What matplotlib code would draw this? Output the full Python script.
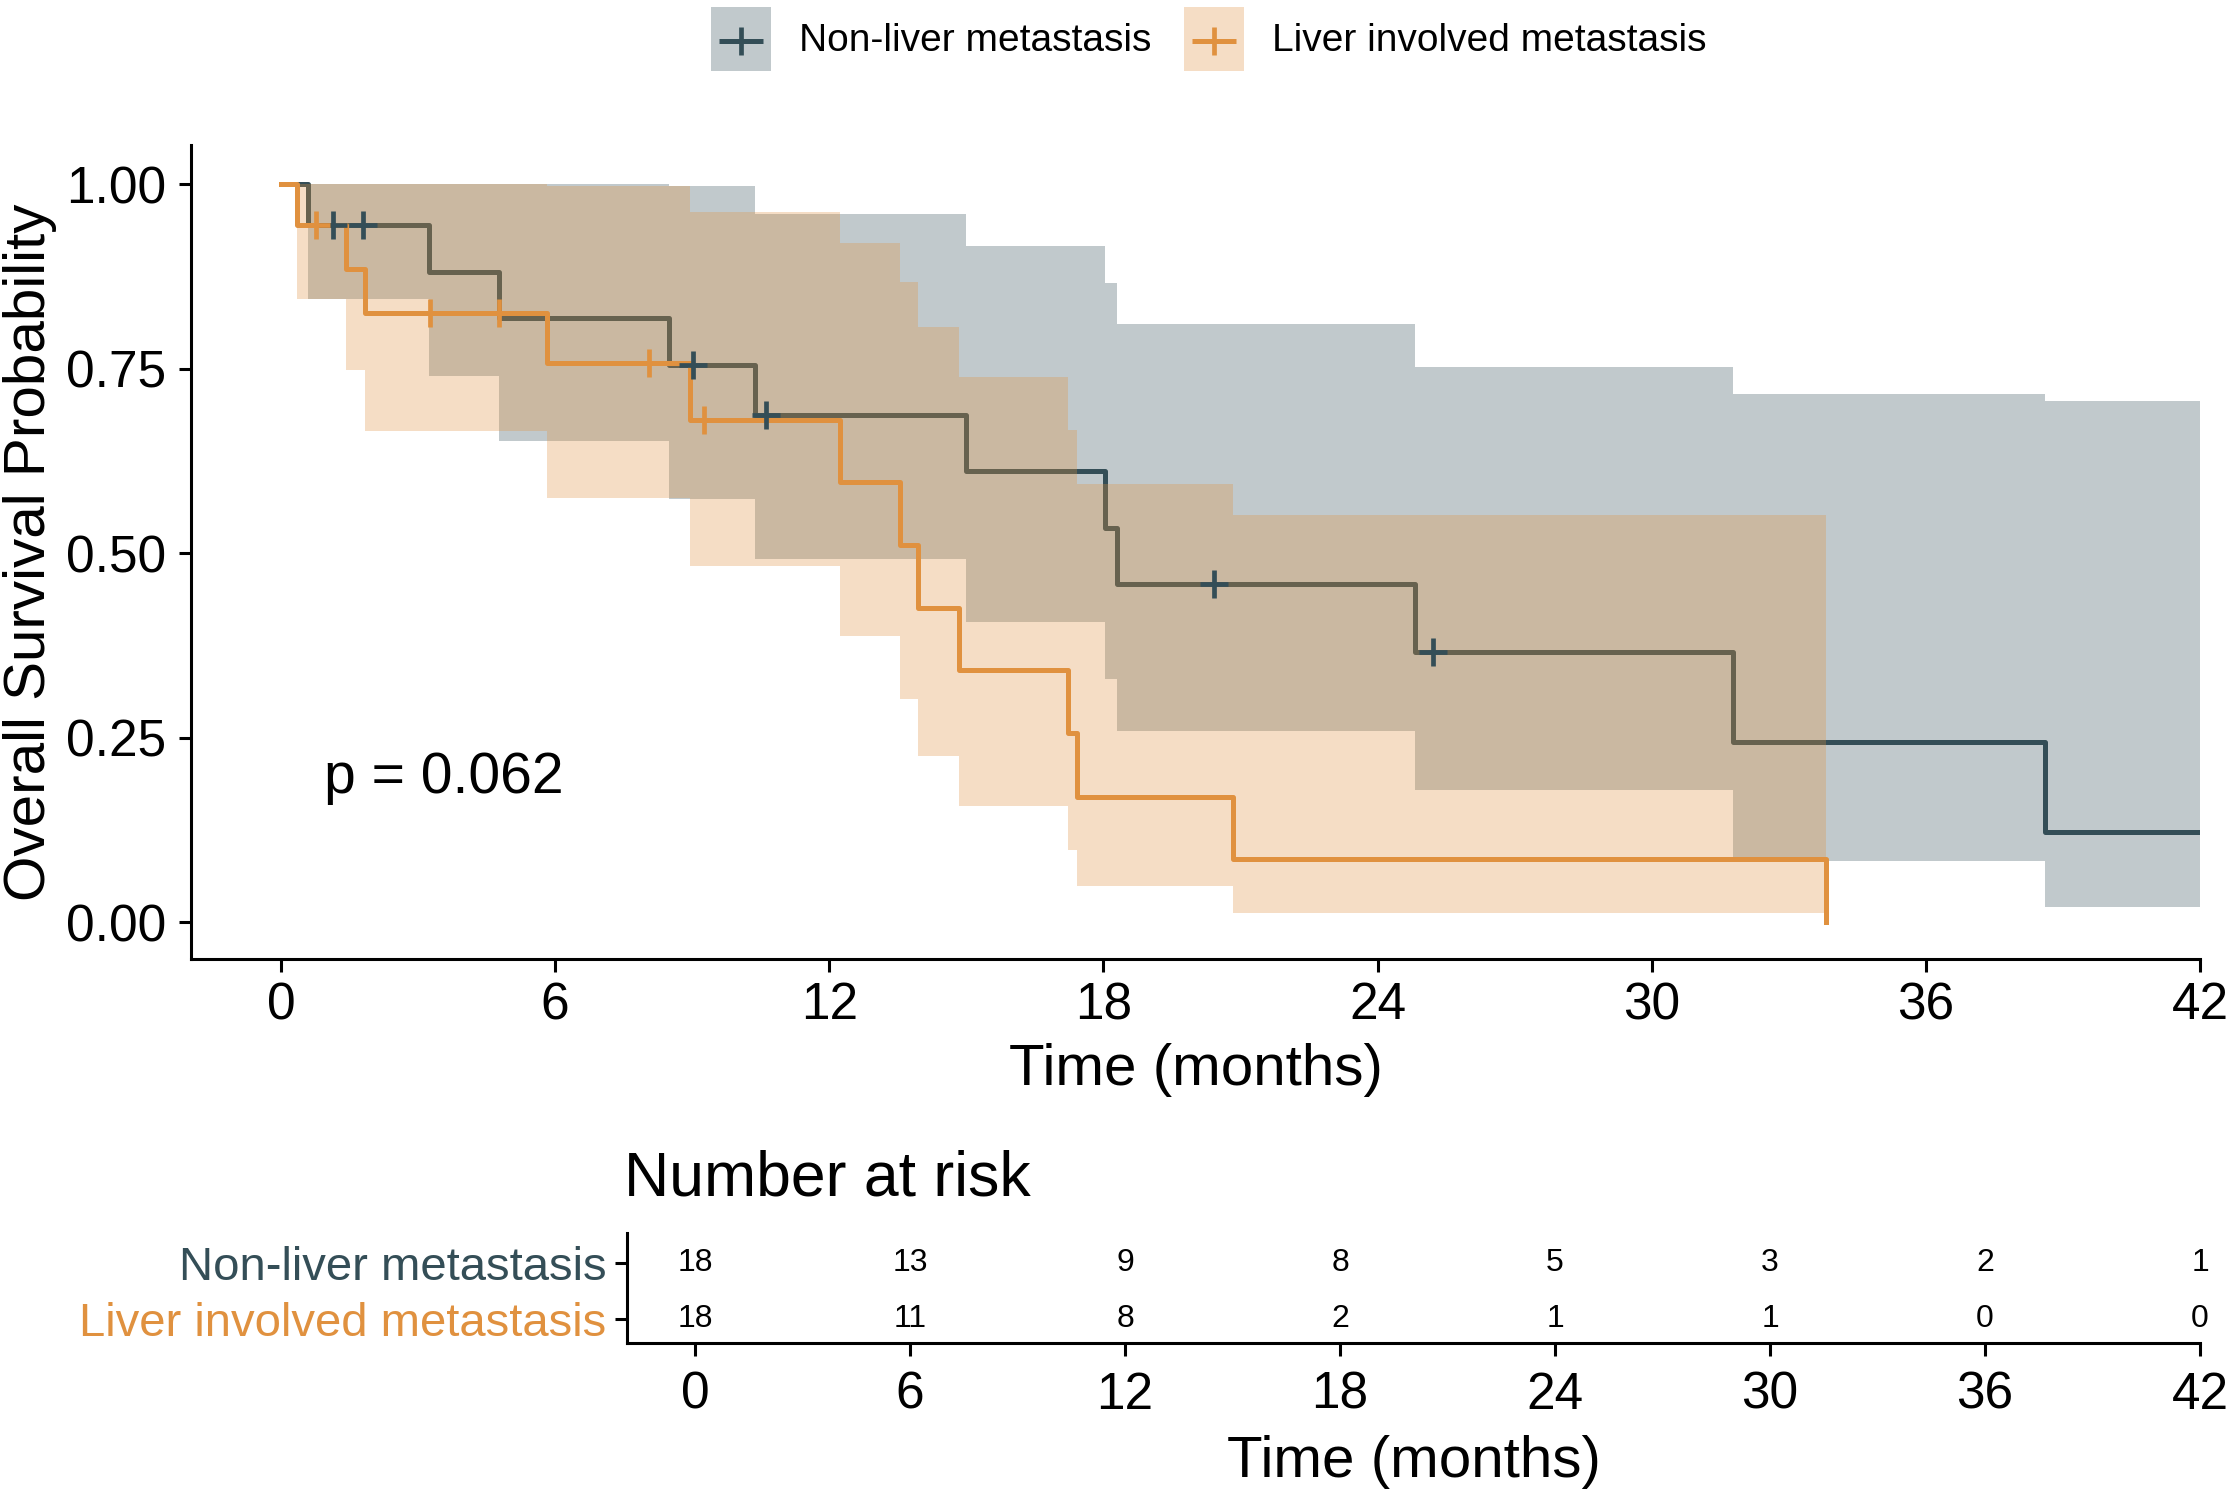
import matplotlib
matplotlib.use("Agg")
import matplotlib.pyplot as plt
from matplotlib.patches import Rectangle

plt.rcParams["font.family"] = ["Liberation Sans", "DejaVu Sans"]

# ---------------- data ----------------
groups = ["Non-liver metastasis", "Liver involved metastasis"]

nl_time = [0, 0.58, 3.23, 4.77, 8.50, 10.37, 15.00, 18.03, 18.29, 24.83, 31.77, 38.60, 42.0]
nl_surv = [1.0, 0.944, 0.881, 0.818, 0.755, 0.687, 0.611, 0.534, 0.458, 0.366, 0.244, 0.122, 0.122]
nl_upper = [1.0, 1.0, 1.0, 1.0, 0.997, 0.959, 0.916, 0.866, 0.810, 0.752, 0.716, 0.706, 0.706]
nl_lower = [1.0, 0.844, 0.740, 0.652, 0.573, 0.492, 0.407, 0.330, 0.259, 0.179, 0.083, 0.021, 0.021]
nl_cens_t = [1.14, 1.80, 9.02, 10.62, 20.42, 25.22]
nl_cens_s = [0.944, 0.944, 0.755, 0.687, 0.458, 0.366]

lv_time = [0, 0.36, 1.42, 1.84, 5.83, 8.95, 12.23, 13.55, 13.94, 14.83, 17.22, 17.43, 20.83, 33.82]
lv_surv = [1.0, 0.944, 0.885, 0.826, 0.757, 0.681, 0.596, 0.511, 0.426, 0.341, 0.256, 0.170, 0.085, 0.0]
lv_band_time = [0, 0.36, 1.42, 1.84, 5.83, 8.95, 12.23, 13.55, 13.94, 14.83, 17.22, 17.43, 20.83, 33.82]
lv_upper = [1.0, 1.0, 1.0, 1.0, 0.998, 0.962, 0.920, 0.867, 0.806, 0.739, 0.667, 0.594, 0.551, 0.551]
lv_lower = [1.0, 0.844, 0.748, 0.666, 0.575, 0.483, 0.387, 0.302, 0.225, 0.157, 0.098, 0.049, 0.013, 0.013]
lv_cens_t = [0.77, 3.27, 4.77, 8.05, 9.25]
lv_cens_s = [0.944, 0.826, 0.826, 0.757, 0.681]

risk_times = [0, 6, 12, 18, 24, 30, 36, 42]
risk_nl = [18, 13, 9, 8, 5, 3, 2, 1]
risk_lv = [18, 11, 8, 2, 1, 1, 0, 0]

p_text = "p = 0.062"
y_ticks = [0.0, 0.25, 0.50, 0.75, 1.00]
y_ticklabels = ["0.00", "0.25", "0.50", "0.75", "1.00"]

# ---------------- style ----------------
C_NL = "#344E57"
C_LV = "#E0913F"
ALPHA = 0.3
LW = 3.6
MS = 20
MEW = 3.4
TICK_FS = 37
LAB_FS = 42

W, H = 2228, 1495
fig = plt.figure(figsize=(W / 100, H / 100), dpi=100)

ax = fig.add_axes([191 / W, 1 - 959 / H, (2200 - 191) / W, (959 - 145) / H])
ax.fill_between(nl_time, nl_lower, nl_upper, step="post", color=C_NL, alpha=ALPHA, lw=0, zorder=1)
ax.step(nl_time, nl_surv, where="post", color=C_NL, lw=LW, zorder=2)
ax.fill_between(lv_band_time, lv_lower, lv_upper, step="post", color=C_LV, alpha=ALPHA, lw=0, zorder=3)
ax.step(lv_time, lv_surv, where="post", color=C_LV, lw=LW, zorder=4)
ax.plot(nl_cens_t, nl_cens_s, ls="none", marker="+", ms=MS, mew=MEW, color=C_NL, zorder=5)
ax.plot(lv_cens_t, lv_cens_s, ls="none", marker="+", ms=MS, mew=MEW, color=C_LV, zorder=5)

ax.set_xlim(-1.97, 42.0)
ax.set_ylim(-0.05, 1.053)
ax.set_xticks(risk_times)
ax.set_yticks(y_ticks)
ax.set_yticklabels(y_ticklabels)
for s in ["top", "right"]:
    ax.spines[s].set_visible(False)
for s in ["left", "bottom"]:
    ax.spines[s].set_linewidth(2.2)
ax.tick_params(axis="both", labelsize=TICK_FS, length=9, width=2.2, colors="black")
ax.tick_params(axis="x", pad=7)
ax.tick_params(axis="y", pad=9)
ax.set_xlabel("Time (months)", fontsize=LAB_FS, labelpad=9)
ax.set_ylabel("Overall Survival Probability", fontsize=LAB_FS, labelpad=6)
ax.text(0.95, 0.195, p_text, fontsize=41, ha="left", va="center")

# legend (pixel-coordinate overlay)
lax = fig.add_axes([0, 0, 1, 1], facecolor="none")
lax.set_xlim(0, W)
lax.set_ylim(H, 0)
lax.axis("off")
for x0, c, lab in [(711, C_NL, groups[0]), (1184, C_LV, groups[1])]:
    lax.add_patch(Rectangle((x0, 7), 60, 64, facecolor=c, alpha=ALPHA, lw=0))
    lax.plot([x0 + 8, x0 + 52], [41, 41], color=c, lw=LW, solid_capstyle="butt")
    lax.plot([x0 + 30], [41], marker="+", ms=MS, mew=MEW, color=c)
    lax.text(x0 + 88, 41, lab, fontsize=28, ha="left", va="center")

# risk table
rax = fig.add_axes([627 / W, 1 - 1343 / H, (2200 - 627) / W, (1343 - 1233) / H])
for t, a, b in zip(risk_times, risk_nl, risk_lv):
    rax.text(t, 2, str(a), ha="center", va="center", fontsize=23)
    rax.text(t, 1, str(b), ha="center", va="center", fontsize=23)
rax.set_xlim(-1.9, 42.0)
rax.set_ylim(0.57, 2.54)
rax.set_xticks(risk_times)
rax.set_yticks([2, 1])
rax.set_yticklabels(groups, fontsize=34)
for lbl, c in zip(rax.get_yticklabels(), [C_NL, C_LV]):
    lbl.set_color(c)
for s in ["top", "right"]:
    rax.spines[s].set_visible(False)
for s in ["left", "bottom"]:
    rax.spines[s].set_linewidth(2.2)
rax.tick_params(axis="x", labelsize=TICK_FS, length=9, width=2.2, pad=11)
rax.tick_params(axis="y", length=9, width=2.2, pad=6)
rax.set_xlabel("Time (months)", fontsize=LAB_FS, labelpad=11)
rax.set_title("Number at risk", fontsize=45, loc="left", pad=27, x=-0.002)

fig.savefig("out.png", dpi=100)
